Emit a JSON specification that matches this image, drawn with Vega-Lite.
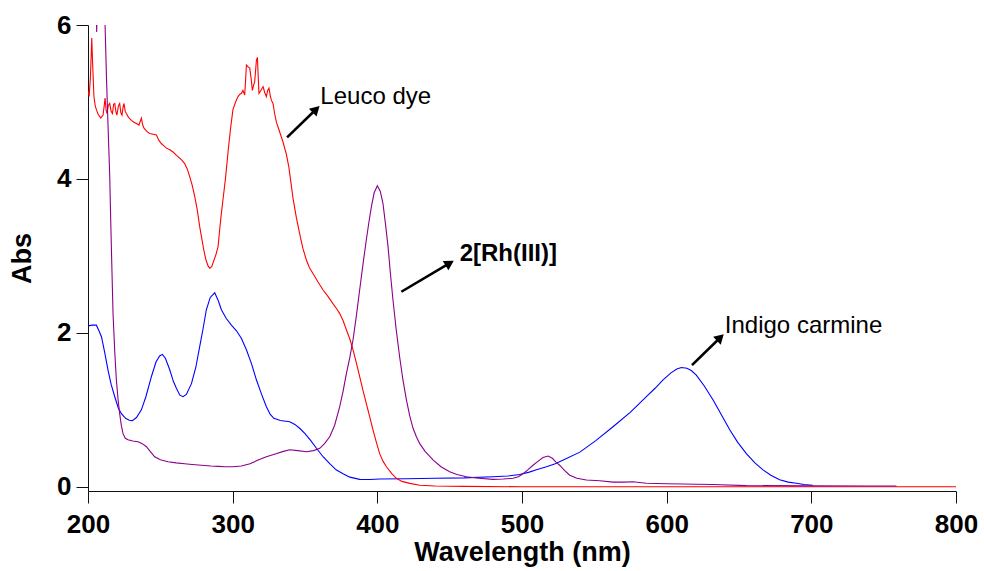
{
  "$schema": "https://vega.github.io/schema/vega-lite/v6.json",
  "autosize": {"type": "none"},
  "padding": {"left": 88, "top": 25, "right": 28, "bottom": 80},
  "width": 868,
  "height": 466,
  "background": "white",
  "config": {
    "view": {"stroke": null},
    "axis": {
      "domainColor": "#111111", "tickColor": "#111111", "domainWidth": 1, "tickWidth": 1,
      "tickSize": 12, "grid": false, "labelFlush": false, "labelOverlap": false,
      "labelFont": "Liberation Sans", "labelFontWeight": "bold", "labelFontSize": 26, "labelColor": "#000000",
      "titleFont": "Liberation Sans", "titleFontWeight": "bold", "titleFontSize": 27, "titleColor": "#000000"
    }
  },
  "datasets": {
    "spectra": [
      {"series": "Indigo carmine", "wl": 200, "abs": 2.09}, {"series": "Indigo carmine", "wl": 203, "abs": 2.10}, {"series": "Indigo carmine", "wl": 205.8, "abs": 2.10}, {"series": "Indigo carmine", "wl": 207.5, "abs": 2.03}, {"series": "Indigo carmine", "wl": 209.3, "abs": 1.95}, {"series": "Indigo carmine", "wl": 211.5, "abs": 1.75}, {"series": "Indigo carmine", "wl": 213.8, "abs": 1.52}, {"series": "Indigo carmine", "wl": 216, "abs": 1.33}, {"series": "Indigo carmine", "wl": 218.5, "abs": 1.17}, {"series": "Indigo carmine", "wl": 221, "abs": 1.02}, {"series": "Indigo carmine", "wl": 223.1, "abs": 0.95}, {"series": "Indigo carmine", "wl": 226, "abs": 0.89}, {"series": "Indigo carmine", "wl": 228.5, "abs": 0.865}, {"series": "Indigo carmine", "wl": 230.7, "abs": 0.86}, {"series": "Indigo carmine", "wl": 233.5, "abs": 0.9}, {"series": "Indigo carmine", "wl": 236.9, "abs": 1.0}, {"series": "Indigo carmine", "wl": 240, "abs": 1.17}, {"series": "Indigo carmine", "wl": 243.8, "abs": 1.43}, {"series": "Indigo carmine", "wl": 247, "abs": 1.62}, {"series": "Indigo carmine", "wl": 249.5, "abs": 1.7}, {"series": "Indigo carmine", "wl": 251.4, "abs": 1.72}, {"series": "Indigo carmine", "wl": 253.5, "abs": 1.67}, {"series": "Indigo carmine", "wl": 256.5, "abs": 1.52}, {"series": "Indigo carmine", "wl": 259, "abs": 1.37}, {"series": "Indigo carmine", "wl": 261.1, "abs": 1.28}, {"series": "Indigo carmine", "wl": 263.5, "abs": 1.19}, {"series": "Indigo carmine", "wl": 265.7, "abs": 1.17}, {"series": "Indigo carmine", "wl": 268, "abs": 1.2}, {"series": "Indigo carmine", "wl": 271.5, "abs": 1.34}, {"series": "Indigo carmine", "wl": 274.5, "abs": 1.55}, {"series": "Indigo carmine", "wl": 277.2, "abs": 1.82}, {"series": "Indigo carmine", "wl": 279.5, "abs": 2.05}, {"series": "Indigo carmine", "wl": 281.8, "abs": 2.3}, {"series": "Indigo carmine", "wl": 284.5, "abs": 2.46}, {"series": "Indigo carmine", "wl": 287.6, "abs": 2.52}, {"series": "Indigo carmine", "wl": 290, "abs": 2.42}, {"series": "Indigo carmine", "wl": 292.2, "abs": 2.3}, {"series": "Indigo carmine", "wl": 295.5, "abs": 2.19}, {"series": "Indigo carmine", "wl": 299.1, "abs": 2.1}, {"series": "Indigo carmine", "wl": 302.5, "abs": 2.03}, {"series": "Indigo carmine", "wl": 306, "abs": 1.93}, {"series": "Indigo carmine", "wl": 309.5, "abs": 1.78}, {"series": "Indigo carmine", "wl": 313, "abs": 1.6}, {"series": "Indigo carmine", "wl": 316.4, "abs": 1.39}, {"series": "Indigo carmine", "wl": 320, "abs": 1.2}, {"series": "Indigo carmine", "wl": 323.3, "abs": 1.04}, {"series": "Indigo carmine", "wl": 326, "abs": 0.94}, {"series": "Indigo carmine", "wl": 328.5, "abs": 0.89}, {"series": "Indigo carmine", "wl": 333, "abs": 0.86}, {"series": "Indigo carmine", "wl": 339.4, "abs": 0.845}, {"series": "Indigo carmine", "wl": 343, "abs": 0.81}, {"series": "Indigo carmine", "wl": 346.3, "abs": 0.76}, {"series": "Indigo carmine", "wl": 350, "abs": 0.69}, {"series": "Indigo carmine", "wl": 354, "abs": 0.6}, {"series": "Indigo carmine", "wl": 357.9, "abs": 0.5}, {"series": "Indigo carmine", "wl": 362.5, "abs": 0.39}, {"series": "Indigo carmine", "wl": 367.1, "abs": 0.3}, {"series": "Indigo carmine", "wl": 371.5, "abs": 0.22}, {"series": "Indigo carmine", "wl": 376.3, "abs": 0.17}, {"series": "Indigo carmine", "wl": 381, "abs": 0.125}, {"series": "Indigo carmine", "wl": 387.8, "abs": 0.096}, {"series": "Indigo carmine", "wl": 395, "abs": 0.095}, {"series": "Indigo carmine", "wl": 401.6, "abs": 0.1}, {"series": "Indigo carmine", "wl": 420, "abs": 0.105}, {"series": "Indigo carmine", "wl": 440, "abs": 0.11}, {"series": "Indigo carmine", "wl": 460, "abs": 0.115}, {"series": "Indigo carmine", "wl": 480, "abs": 0.13}, {"series": "Indigo carmine", "wl": 490, "abs": 0.14}, {"series": "Indigo carmine", "wl": 498.4, "abs": 0.16}, {"series": "Indigo carmine", "wl": 505, "abs": 0.19}, {"series": "Indigo carmine", "wl": 510, "abs": 0.22}, {"series": "Indigo carmine", "wl": 516.9, "abs": 0.26}, {"series": "Indigo carmine", "wl": 523, "abs": 0.3}, {"series": "Indigo carmine", "wl": 530, "abs": 0.36}, {"series": "Indigo carmine", "wl": 540, "abs": 0.45}, {"series": "Indigo carmine", "wl": 551, "abs": 0.6}, {"series": "Indigo carmine", "wl": 562.9, "abs": 0.78}, {"series": "Indigo carmine", "wl": 575, "abs": 0.97}, {"series": "Indigo carmine", "wl": 586, "abs": 1.17}, {"series": "Indigo carmine", "wl": 592, "abs": 1.28}, {"series": "Indigo carmine", "wl": 597.5, "abs": 1.39}, {"series": "Indigo carmine", "wl": 603, "abs": 1.48}, {"series": "Indigo carmine", "wl": 607, "abs": 1.53}, {"series": "Indigo carmine", "wl": 610.2, "abs": 1.55}, {"series": "Indigo carmine", "wl": 614, "abs": 1.54}, {"series": "Indigo carmine", "wl": 617, "abs": 1.51}, {"series": "Indigo carmine", "wl": 620.5, "abs": 1.45}, {"series": "Indigo carmine", "wl": 626, "abs": 1.31}, {"series": "Indigo carmine", "wl": 632, "abs": 1.13}, {"series": "Indigo carmine", "wl": 638, "abs": 0.93}, {"series": "Indigo carmine", "wl": 643.6, "abs": 0.74}, {"series": "Indigo carmine", "wl": 649, "abs": 0.58}, {"series": "Indigo carmine", "wl": 655.1, "abs": 0.43}, {"series": "Indigo carmine", "wl": 661, "abs": 0.31}, {"series": "Indigo carmine", "wl": 666.6, "abs": 0.22}, {"series": "Indigo carmine", "wl": 672, "abs": 0.15}, {"series": "Indigo carmine", "wl": 678.1, "abs": 0.09}, {"series": "Indigo carmine", "wl": 684, "abs": 0.06}, {"series": "Indigo carmine", "wl": 689.7, "abs": 0.045}, {"series": "Indigo carmine", "wl": 695, "abs": 0.03}, {"series": "Indigo carmine", "wl": 701, "abs": 0.02},

      {"series": "Leuco dye", "wl": 200, "abs": 5.15}, {"series": "Leuco dye", "wl": 200.8, "abs": 5.07}, {"series": "Leuco dye", "wl": 201.6, "abs": 5.3}, {"series": "Leuco dye", "wl": 202.2, "abs": 5.6}, {"series": "Leuco dye", "wl": 202.6, "abs": 5.83}, {"series": "Leuco dye", "wl": 203.2, "abs": 5.5}, {"series": "Leuco dye", "wl": 204.1, "abs": 5.07}, {"series": "Leuco dye", "wl": 205, "abs": 4.95}, {"series": "Leuco dye", "wl": 205.8, "abs": 4.9}, {"series": "Leuco dye", "wl": 207, "abs": 4.84}, {"series": "Leuco dye", "wl": 208.8, "abs": 4.79}, {"series": "Leuco dye", "wl": 210.4, "abs": 4.83}, {"series": "Leuco dye", "wl": 211.2, "abs": 4.95}, {"series": "Leuco dye", "wl": 211.8, "abs": 5.05}, {"series": "Leuco dye", "wl": 212.5, "abs": 4.9}, {"series": "Leuco dye", "wl": 213.1, "abs": 4.85}, {"series": "Leuco dye", "wl": 214, "abs": 4.95}, {"series": "Leuco dye", "wl": 215, "abs": 4.98}, {"series": "Leuco dye", "wl": 216, "abs": 4.88}, {"series": "Leuco dye", "wl": 216.9, "abs": 4.85}, {"series": "Leuco dye", "wl": 217.7, "abs": 4.97}, {"series": "Leuco dye", "wl": 218.5, "abs": 4.98}, {"series": "Leuco dye", "wl": 219.3, "abs": 4.87}, {"series": "Leuco dye", "wl": 220, "abs": 4.83}, {"series": "Leuco dye", "wl": 221, "abs": 4.95}, {"series": "Leuco dye", "wl": 221.9, "abs": 4.98}, {"series": "Leuco dye", "wl": 222.7, "abs": 4.86}, {"series": "Leuco dye", "wl": 223.5, "abs": 4.83}, {"series": "Leuco dye", "wl": 224.2, "abs": 4.93}, {"series": "Leuco dye", "wl": 224.9, "abs": 4.98}, {"series": "Leuco dye", "wl": 225.7, "abs": 4.88}, {"series": "Leuco dye", "wl": 226.5, "abs": 4.85}, {"series": "Leuco dye", "wl": 228, "abs": 4.8}, {"series": "Leuco dye", "wl": 230, "abs": 4.76}, {"series": "Leuco dye", "wl": 231.5, "abs": 4.74}, {"series": "Leuco dye", "wl": 233.5, "abs": 4.72}, {"series": "Leuco dye", "wl": 235.2, "abs": 4.7}, {"series": "Leuco dye", "wl": 236.9, "abs": 4.79}, {"series": "Leuco dye", "wl": 237.8, "abs": 4.7}, {"series": "Leuco dye", "wl": 238.7, "abs": 4.66}, {"series": "Leuco dye", "wl": 240.5, "abs": 4.62}, {"series": "Leuco dye", "wl": 242.6, "abs": 4.59}, {"series": "Leuco dye", "wl": 245, "abs": 4.58}, {"series": "Leuco dye", "wl": 247.3, "abs": 4.57}, {"series": "Leuco dye", "wl": 249, "abs": 4.5}, {"series": "Leuco dye", "wl": 250.7, "abs": 4.46}, {"series": "Leuco dye", "wl": 252.5, "abs": 4.43}, {"series": "Leuco dye", "wl": 254.2, "abs": 4.4}, {"series": "Leuco dye", "wl": 256.5, "abs": 4.38}, {"series": "Leuco dye", "wl": 258.8, "abs": 4.35}, {"series": "Leuco dye", "wl": 261, "abs": 4.31}, {"series": "Leuco dye", "wl": 263.4, "abs": 4.27}, {"series": "Leuco dye", "wl": 265, "abs": 4.24}, {"series": "Leuco dye", "wl": 266.8, "abs": 4.2}, {"series": "Leuco dye", "wl": 268.6, "abs": 4.13}, {"series": "Leuco dye", "wl": 270.3, "abs": 4.03}, {"series": "Leuco dye", "wl": 272, "abs": 3.92}, {"series": "Leuco dye", "wl": 273.8, "abs": 3.77}, {"series": "Leuco dye", "wl": 275.5, "abs": 3.6}, {"series": "Leuco dye", "wl": 277.2, "abs": 3.38}, {"series": "Leuco dye", "wl": 278.7, "abs": 3.22}, {"series": "Leuco dye", "wl": 280, "abs": 3.08}, {"series": "Leuco dye", "wl": 281.5, "abs": 2.95}, {"series": "Leuco dye", "wl": 283, "abs": 2.87}, {"series": "Leuco dye", "wl": 284.1, "abs": 2.84}, {"series": "Leuco dye", "wl": 285.5, "abs": 2.86}, {"series": "Leuco dye", "wl": 287, "abs": 2.94}, {"series": "Leuco dye", "wl": 288.5, "abs": 3.02}, {"series": "Leuco dye", "wl": 289.9, "abs": 3.12}, {"series": "Leuco dye", "wl": 291, "abs": 3.34}, {"series": "Leuco dye", "wl": 292, "abs": 3.52}, {"series": "Leuco dye", "wl": 293.3, "abs": 3.73}, {"series": "Leuco dye", "wl": 295, "abs": 4.0}, {"series": "Leuco dye", "wl": 296.8, "abs": 4.35}, {"series": "Leuco dye", "wl": 298.5, "abs": 4.65}, {"series": "Leuco dye", "wl": 300.2, "abs": 4.9}, {"series": "Leuco dye", "wl": 302, "abs": 5.0}, {"series": "Leuco dye", "wl": 303.7, "abs": 5.07}, {"series": "Leuco dye", "wl": 305, "abs": 5.1}, {"series": "Leuco dye", "wl": 306, "abs": 5.11}, {"series": "Leuco dye", "wl": 307.1, "abs": 5.15}, {"series": "Leuco dye", "wl": 308.3, "abs": 5.09}, {"series": "Leuco dye", "wl": 309, "abs": 5.3}, {"series": "Leuco dye", "wl": 309.5, "abs": 5.48}, {"series": "Leuco dye", "wl": 310.5, "abs": 5.46}, {"series": "Leuco dye", "wl": 311.8, "abs": 5.44}, {"series": "Leuco dye", "wl": 312.8, "abs": 5.3}, {"series": "Leuco dye", "wl": 313.6, "abs": 5.15}, {"series": "Leuco dye", "wl": 314.5, "abs": 5.22}, {"series": "Leuco dye", "wl": 315.2, "abs": 5.26}, {"series": "Leuco dye", "wl": 315.8, "abs": 5.4}, {"series": "Leuco dye", "wl": 316.4, "abs": 5.54}, {"series": "Leuco dye", "wl": 317.1, "abs": 5.58}, {"series": "Leuco dye", "wl": 317.6, "abs": 5.35}, {"series": "Leuco dye", "wl": 318.2, "abs": 5.11}, {"series": "Leuco dye", "wl": 319.5, "abs": 5.15}, {"series": "Leuco dye", "wl": 321, "abs": 5.2}, {"series": "Leuco dye", "wl": 322.2, "abs": 5.12}, {"series": "Leuco dye", "wl": 323.3, "abs": 5.07}, {"series": "Leuco dye", "wl": 324.2, "abs": 5.15}, {"series": "Leuco dye", "wl": 325.1, "abs": 5.18}, {"series": "Leuco dye", "wl": 326, "abs": 5.08}, {"series": "Leuco dye", "wl": 326.8, "abs": 5.02}, {"series": "Leuco dye", "wl": 327.9, "abs": 4.98}, {"series": "Leuco dye", "wl": 329, "abs": 4.85}, {"series": "Leuco dye", "wl": 330.2, "abs": 4.74}, {"series": "Leuco dye", "wl": 332.5, "abs": 4.61}, {"series": "Leuco dye", "wl": 334.8, "abs": 4.48}, {"series": "Leuco dye", "wl": 337, "abs": 4.33}, {"series": "Leuco dye", "wl": 338.8, "abs": 4.16}, {"series": "Leuco dye", "wl": 341.7, "abs": 3.75}, {"series": "Leuco dye", "wl": 344, "abs": 3.5}, {"series": "Leuco dye", "wl": 346.3, "abs": 3.29}, {"series": "Leuco dye", "wl": 348.5, "abs": 3.1}, {"series": "Leuco dye", "wl": 350.9, "abs": 2.95}, {"series": "Leuco dye", "wl": 353, "abs": 2.85}, {"series": "Leuco dye", "wl": 355.5, "abs": 2.77}, {"series": "Leuco dye", "wl": 359, "abs": 2.66}, {"series": "Leuco dye", "wl": 362.4, "abs": 2.56}, {"series": "Leuco dye", "wl": 366, "abs": 2.47}, {"series": "Leuco dye", "wl": 369.3, "abs": 2.38}, {"series": "Leuco dye", "wl": 372, "abs": 2.31}, {"series": "Leuco dye", "wl": 374, "abs": 2.25}, {"series": "Leuco dye", "wl": 376.3, "abs": 2.16}, {"series": "Leuco dye", "wl": 378.6, "abs": 2.04}, {"series": "Leuco dye", "wl": 381, "abs": 1.92}, {"series": "Leuco dye", "wl": 383.2, "abs": 1.78}, {"series": "Leuco dye", "wl": 385.5, "abs": 1.61}, {"series": "Leuco dye", "wl": 387.8, "abs": 1.43}, {"series": "Leuco dye", "wl": 390, "abs": 1.26}, {"series": "Leuco dye", "wl": 392.4, "abs": 1.08}, {"series": "Leuco dye", "wl": 394.7, "abs": 0.91}, {"series": "Leuco dye", "wl": 397, "abs": 0.74}, {"series": "Leuco dye", "wl": 399.3, "abs": 0.58}, {"series": "Leuco dye", "wl": 401.6, "abs": 0.43}, {"series": "Leuco dye", "wl": 404, "abs": 0.33}, {"series": "Leuco dye", "wl": 406.3, "abs": 0.26}, {"series": "Leuco dye", "wl": 410, "abs": 0.17}, {"series": "Leuco dye", "wl": 413.2, "abs": 0.11}, {"series": "Leuco dye", "wl": 417, "abs": 0.07}, {"series": "Leuco dye", "wl": 422.4, "abs": 0.044}, {"series": "Leuco dye", "wl": 429.3, "abs": 0.02}, {"series": "Leuco dye", "wl": 440, "abs": 0.01}, {"series": "Leuco dye", "wl": 460, "abs": 0.005}, {"series": "Leuco dye", "wl": 500, "abs": 0.0}, {"series": "Leuco dye", "wl": 600, "abs": 0.0}, {"series": "Leuco dye", "wl": 700, "abs": 0.0}, {"series": "Leuco dye", "wl": 800, "abs": 0.0},

      {"series": "2[Rh(III)]", "wl": 205.5, "abs": 6.4}, {"series": "2[Rh(III)]", "wl": 206, "abs": 5.91}, {"series": "2[Rh(III)]", "wl": 206.5, "abs": 6.4}, {"series": "2[Rh(III)]", "wl": 211.3, "abs": 6.4}, {"series": "2[Rh(III)]", "wl": 211.8, "abs": 6.0}, {"series": "2[Rh(III)]", "wl": 212.8, "abs": 5.3}, {"series": "2[Rh(III)]", "wl": 213.8, "abs": 4.72}, {"series": "2[Rh(III)]", "wl": 215, "abs": 4.05}, {"series": "2[Rh(III)]", "wl": 215.7, "abs": 3.46}, {"series": "2[Rh(III)]", "wl": 216.5, "abs": 2.85}, {"series": "2[Rh(III)]", "wl": 217.3, "abs": 2.25}, {"series": "2[Rh(III)]", "wl": 218.5, "abs": 1.75}, {"series": "2[Rh(III)]", "wl": 219.6, "abs": 1.39}, {"series": "2[Rh(III)]", "wl": 220.8, "abs": 1.13}, {"series": "2[Rh(III)]", "wl": 221.9, "abs": 0.95}, {"series": "2[Rh(III)]", "wl": 223, "abs": 0.8}, {"series": "2[Rh(III)]", "wl": 224.2, "abs": 0.69}, {"series": "2[Rh(III)]", "wl": 225.8, "abs": 0.63}, {"series": "2[Rh(III)]", "wl": 227.6, "abs": 0.61}, {"series": "2[Rh(III)]", "wl": 231, "abs": 0.595}, {"series": "2[Rh(III)]", "wl": 234.6, "abs": 0.585}, {"series": "2[Rh(III)]", "wl": 237.5, "abs": 0.56}, {"series": "2[Rh(III)]", "wl": 240.4, "abs": 0.52}, {"series": "2[Rh(III)]", "wl": 243, "abs": 0.46}, {"series": "2[Rh(III)]", "wl": 246.1, "abs": 0.39}, {"series": "2[Rh(III)]", "wl": 250, "abs": 0.35}, {"series": "2[Rh(III)]", "wl": 255.3, "abs": 0.325}, {"series": "2[Rh(III)]", "wl": 261, "abs": 0.31}, {"series": "2[Rh(III)]", "wl": 266.8, "abs": 0.3}, {"series": "2[Rh(III)]", "wl": 272, "abs": 0.29}, {"series": "2[Rh(III)]", "wl": 278.4, "abs": 0.28}, {"series": "2[Rh(III)]", "wl": 285, "abs": 0.27}, {"series": "2[Rh(III)]", "wl": 290, "abs": 0.265}, {"series": "2[Rh(III)]", "wl": 294.5, "abs": 0.26}, {"series": "2[Rh(III)]", "wl": 300, "abs": 0.26}, {"series": "2[Rh(III)]", "wl": 306, "abs": 0.27}, {"series": "2[Rh(III)]", "wl": 312, "abs": 0.3}, {"series": "2[Rh(III)]", "wl": 318, "abs": 0.35}, {"series": "2[Rh(III)]", "wl": 323.3, "abs": 0.39}, {"series": "2[Rh(III)]", "wl": 330, "abs": 0.43}, {"series": "2[Rh(III)]", "wl": 335, "abs": 0.46}, {"series": "2[Rh(III)]", "wl": 339.4, "abs": 0.48}, {"series": "2[Rh(III)]", "wl": 345, "abs": 0.47}, {"series": "2[Rh(III)]", "wl": 350.9, "abs": 0.455}, {"series": "2[Rh(III)]", "wl": 356, "abs": 0.47}, {"series": "2[Rh(III)]", "wl": 360.2, "abs": 0.5}, {"series": "2[Rh(III)]", "wl": 363.5, "abs": 0.56}, {"series": "2[Rh(III)]", "wl": 367.1, "abs": 0.65}, {"series": "2[Rh(III)]", "wl": 370.5, "abs": 0.8}, {"series": "2[Rh(III)]", "wl": 374, "abs": 1.04}, {"series": "2[Rh(III)]", "wl": 376.3, "abs": 1.24}, {"series": "2[Rh(III)]", "wl": 378.6, "abs": 1.47}, {"series": "2[Rh(III)]", "wl": 381, "abs": 1.68}, {"series": "2[Rh(III)]", "wl": 383.2, "abs": 1.91}, {"series": "2[Rh(III)]", "wl": 385.5, "abs": 2.22}, {"series": "2[Rh(III)]", "wl": 387.8, "abs": 2.56}, {"series": "2[Rh(III)]", "wl": 390, "abs": 2.88}, {"series": "2[Rh(III)]", "wl": 392.4, "abs": 3.21}, {"series": "2[Rh(III)]", "wl": 394.2, "abs": 3.44}, {"series": "2[Rh(III)]", "wl": 395.9, "abs": 3.64}, {"series": "2[Rh(III)]", "wl": 397.8, "abs": 3.82}, {"series": "2[Rh(III)]", "wl": 400, "abs": 3.91}, {"series": "2[Rh(III)]", "wl": 402, "abs": 3.84}, {"series": "2[Rh(III)]", "wl": 403.9, "abs": 3.68}, {"series": "2[Rh(III)]", "wl": 405.6, "abs": 3.42}, {"series": "2[Rh(III)]", "wl": 407.4, "abs": 3.12}, {"series": "2[Rh(III)]", "wl": 409, "abs": 2.78}, {"series": "2[Rh(III)]", "wl": 410.8, "abs": 2.43}, {"series": "2[Rh(III)]", "wl": 413, "abs": 2.05}, {"series": "2[Rh(III)]", "wl": 415.4, "abs": 1.69}, {"series": "2[Rh(III)]", "wl": 417.7, "abs": 1.39}, {"series": "2[Rh(III)]", "wl": 420.1, "abs": 1.13}, {"series": "2[Rh(III)]", "wl": 422.4, "abs": 0.92}, {"series": "2[Rh(III)]", "wl": 424.7, "abs": 0.76}, {"series": "2[Rh(III)]", "wl": 427, "abs": 0.65}, {"series": "2[Rh(III)]", "wl": 429.3, "abs": 0.56}, {"series": "2[Rh(III)]", "wl": 433, "abs": 0.46}, {"series": "2[Rh(III)]", "wl": 438.5, "abs": 0.35}, {"series": "2[Rh(III)]", "wl": 444, "abs": 0.26}, {"series": "2[Rh(III)]", "wl": 450, "abs": 0.195}, {"series": "2[Rh(III)]", "wl": 455, "abs": 0.16}, {"series": "2[Rh(III)]", "wl": 461.6, "abs": 0.13}, {"series": "2[Rh(III)]", "wl": 470, "abs": 0.11}, {"series": "2[Rh(III)]", "wl": 479.9, "abs": 0.096}, {"series": "2[Rh(III)]", "wl": 487, "abs": 0.1}, {"series": "2[Rh(III)]", "wl": 493.8, "abs": 0.11}, {"series": "2[Rh(III)]", "wl": 497.5, "abs": 0.13}, {"series": "2[Rh(III)]", "wl": 500.7, "abs": 0.17}, {"series": "2[Rh(III)]", "wl": 504, "abs": 0.22}, {"series": "2[Rh(III)]", "wl": 507.6, "abs": 0.28}, {"series": "2[Rh(III)]", "wl": 511, "abs": 0.33}, {"series": "2[Rh(III)]", "wl": 514.5, "abs": 0.38}, {"series": "2[Rh(III)]", "wl": 518, "abs": 0.4}, {"series": "2[Rh(III)]", "wl": 521, "abs": 0.37}, {"series": "2[Rh(III)]", "wl": 523.5, "abs": 0.32}, {"series": "2[Rh(III)]", "wl": 526, "abs": 0.28}, {"series": "2[Rh(III)]", "wl": 529.5, "abs": 0.21}, {"series": "2[Rh(III)]", "wl": 533, "abs": 0.15}, {"series": "2[Rh(III)]", "wl": 538, "abs": 0.11}, {"series": "2[Rh(III)]", "wl": 544.5, "abs": 0.087}, {"series": "2[Rh(III)]", "wl": 553.7, "abs": 0.078}, {"series": "2[Rh(III)]", "wl": 563, "abs": 0.06}, {"series": "2[Rh(III)]", "wl": 570, "abs": 0.06}, {"series": "2[Rh(III)]", "wl": 576.7, "abs": 0.065}, {"series": "2[Rh(III)]", "wl": 586, "abs": 0.045}, {"series": "2[Rh(III)]", "wl": 600, "abs": 0.04}, {"series": "2[Rh(III)]", "wl": 632, "abs": 0.03}, {"series": "2[Rh(III)]", "wl": 655, "abs": 0.015}, {"series": "2[Rh(III)]", "wl": 700, "abs": 0.012}, {"series": "2[Rh(III)]", "wl": 740, "abs": 0.01}, {"series": "2[Rh(III)]", "wl": 758.8, "abs": 0.01}
    ],
    "arrows": [
      {"name": "Leuco dye", "x": 337.6, "y": 4.54, "x2": 357.7, "y2": 4.905},
      {"name": "2[Rh(III)]", "x": 416.6, "y": 2.534, "x2": 450.0, "y2": 2.905},
      {"name": "Indigo carmine", "x": 617.5, "y": 1.58, "x2": 637.1, "y2": 1.94}
    ],
    "labels": [
      {"name": "Leuco dye", "x": 360.6, "y": 4.97, "bold": false},
      {"name": "2[Rh(III)]", "x": 456.9, "y": 2.935, "bold": true},
      {"name": "Indigo carmine", "x": 640.2, "y": 2.0, "bold": false}
    ]
  },
  "layer": [
    {
      "data": {"name": "spectra"},
      "mark": {"type": "line", "strokeWidth": 1.1, "clip": true, "interpolate": "linear"},
      "encoding": {
        "x": {"field": "wl", "type": "quantitative", "scale": {"domain": [200, 800], "nice": false, "zero": false},
              "axis": {"values": [200, 300, 400, 500, 600, 700, 800], "format": "d", "title": "Wavelength (nm)", "labelPadding": 8, "titlePadding": 2}},
        "y": {"field": "abs", "type": "quantitative", "scale": {"domain": [-0.055, 6], "nice": false, "zero": false},
              "axis": {"values": [0, 2, 4, 6], "format": "d", "title": "Abs", "labelPadding": 5, "titlePadding": 20}},
        "color": {"field": "series", "type": "nominal", "legend": null,
                  "scale": {"domain": ["Indigo carmine", "Leuco dye", "2[Rh(III)]"], "range": ["#0000ff", "#ff0000", "#8b008b"]}},
        "detail": {"field": "series"}
      }
    },
    {
      "data": {"name": "arrows"},
      "mark": {"type": "rule", "strokeWidth": 2.6, "color": "#000000"},
      "encoding": {
        "x": {"field": "x", "type": "quantitative"},
        "y": {"field": "y", "type": "quantitative"},
        "x2": {"field": "x2"},
        "y2": {"field": "y2"}
      }
    },
    {
      "data": {"name": "arrows"},
      "transform": [{"filter": "datum.name !== '2[Rh(III)]'"}],
      "mark": {"type": "point", "shape": "triangle-up", "filled": true, "color": "#000000", "opacity": 1, "size": 120, "angle": 46},
      "encoding": {
        "x": {"field": "x2", "type": "quantitative"},
        "y": {"field": "y2", "type": "quantitative"}
      }
    },
    {
      "data": {"name": "arrows"},
      "transform": [{"filter": "datum.name === '2[Rh(III)]'"}],
      "mark": {"type": "point", "shape": "triangle-up", "filled": true, "color": "#000000", "opacity": 1, "size": 120, "angle": 59},
      "encoding": {
        "x": {"field": "x2", "type": "quantitative"},
        "y": {"field": "y2", "type": "quantitative"}
      }
    },
    {
      "data": {"name": "labels"},
      "transform": [{"filter": "!datum.bold"}],
      "mark": {"type": "text", "align": "left", "baseline": "alphabetic", "font": "Liberation Sans", "fontSize": 24, "color": "#000000"},
      "encoding": {
        "x": {"field": "x", "type": "quantitative"},
        "y": {"field": "y", "type": "quantitative"},
        "text": {"field": "name"}
      }
    },
    {
      "data": {"name": "labels"},
      "transform": [{"filter": "datum.bold"}],
      "mark": {"type": "text", "align": "left", "baseline": "alphabetic", "font": "Liberation Sans", "fontSize": 24, "fontWeight": "bold", "color": "#000000"},
      "encoding": {
        "x": {"field": "x", "type": "quantitative"},
        "y": {"field": "y", "type": "quantitative"},
        "text": {"field": "name"}
      }
    }
  ]
}
